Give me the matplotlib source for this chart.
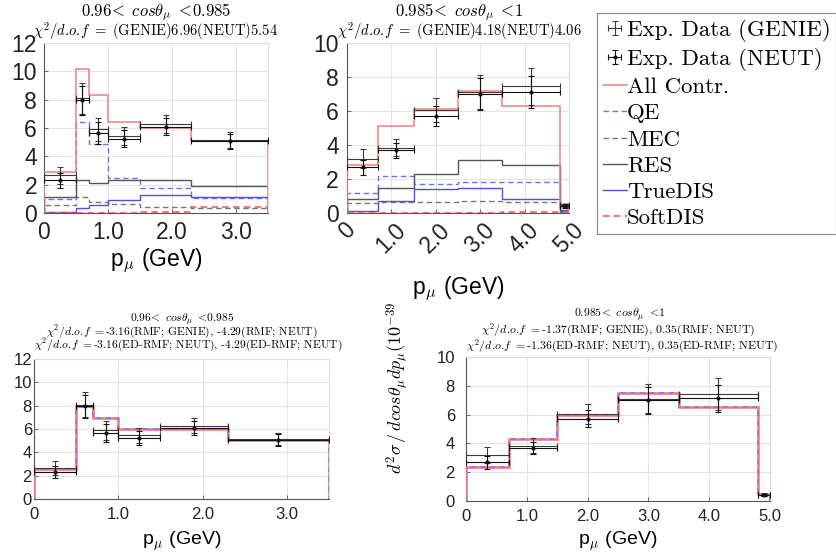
import numpy as np
import matplotlib.pyplot as plt
from matplotlib.ticker import MultipleLocator
from matplotlib.container import ErrorbarContainer
from matplotlib.legend_handler import HandlerErrorbar

plt.rcParams['mathtext.fontset'] = 'cm'
plt.rcParams['font.family'] = ['Liberation Sans', 'DejaVu Sans']

# ---- 0.96 < cos(theta) < 0.985 ----
edges_a = [0, 0.5, 0.7, 1.0, 1.5, 2.3, 3.5]
genie_a = [2.65, 8.1, 5.9, 5.45, 6.3, 5.15]
genie_err_a = [0.6, 1.1, 0.8, 0.65, 0.65, 0.55]
neut_a = [2.3, 7.95, 5.65, 5.25, 6.1, 5.05]
neut_err_a = [0.5, 1.0, 0.8, 0.6, 0.6, 0.5]
all_a = [2.9, 10.2, 8.35, 6.4, 6.0, 5.05]
qe_a = [1.0, 6.45, 4.9, 2.45, 1.75, 1.05]
mec_a = [0.55, 1.1, 0.8, 0.65, 0.45, 0.35]
res_a = [1.15, 2.3, 2.1, 2.3, 2.3, 1.9]
truedis_a = [0.05, 0.35, 0.6, 0.95, 1.3, 1.1]
softdis_a = [0.0, 0.0, 0.0, 0.0, 0.1, 0.45]
rmf_a = [2.55, 7.95, 6.95, 5.97, 6.0, 5.1]
edrmf_a = [2.55, 7.9, 6.95, 5.97, 6.0, 5.1]

# ---- 0.985 < cos(theta) < 1 ----
edges_b = [0, 0.7, 1.5, 2.5, 3.5, 4.8, 5.0]
genie_b = [3.2, 3.85, 6.05, 7.1, 7.45, 0.45]
genie_err_b = [0.55, 0.5, 0.7, 1.0, 1.1, 0.1]
neut_b = [2.68, 3.68, 5.72, 7.0, 7.12, 0.42]
neut_err_b = [0.45, 0.45, 0.6, 0.95, 0.95, 0.1]
all_b = [2.8, 5.1, 6.1, 7.2, 6.3, 0.55]
qe_b = [1.2, 2.2, 1.7, 1.85, 1.85, 0.1]
mec_b = [0.6, 0.62, 0.62, 0.7, 0.65, 0.05]
res_b = [0.8, 1.5, 2.3, 3.1, 2.85, 0.1]
truedis_b = [0.1, 0.68, 1.4, 1.45, 0.82, 0.2]
softdis_b = [0.0, 0.0, 0.0, 0.0, 0.08, 0.05]
rmf_b = [2.35, 4.28, 6.0, 7.5, 6.52, 0.5]
edrmf_b = [2.35, 4.28, 6.0, 7.5, 6.52, 0.5]

ticks_a = [0, 1, 2, 3]
ticklabels_a = ['0', '1.0', '2.0', '3.0']
ticks_b = [0, 1, 2, 3, 4, 5]
ticklabels_b = ['0', '1.0', '2.0', '3.0', '4.0', '5.0']

W, H = 836, 560
fig = plt.figure(figsize=(W / 100, H / 100), dpi=100)


def box(x0, y0, x1, y1):
    # pixel box -> figure fraction
    return [x0 / W, 1 - y1 / H, (x1 - x0) / W, (y1 - y0) / H]


def ftext(x, y, s, **kw):
    fig.text(x / W, 1 - y / H, s, ha='center', va='center', **kw)


def style(ax, xmax, ymax, ticks, labels, size, xpad, ypad):
    ax.set_xlim(0, xmax)
    ax.set_ylim(0, ymax)
    ax.set_xticks(ticks)
    ax.set_xticklabels(labels)
    ax.yaxis.set_major_locator(MultipleLocator(2))
    ax.grid(True, color='#e4e4e4', lw=0.8)
    ax.set_axisbelow(True)
    for s in ['left', 'bottom']:
        ax.spines[s].set_color('#555555')
    for s in ['top', 'right']:
        ax.spines[s].set_color('#dcdcdc')
    ax.tick_params(direction='in', length=3, width=0.6, colors='#555555',
                   labelcolor='#222222', labelsize=size)
    ax.tick_params(axis='x', pad=xpad)
    ax.tick_params(axis='y', pad=ypad)


def draw_data(ax, edges, g, ge, n, ne):
    e = np.asarray(edges)
    xc = (e[:-1] + e[1:]) / 2
    xw = (e[1:] - e[:-1]) / 2
    h1 = ax.errorbar(xc, g, xerr=xw, yerr=ge, fmt='none', ecolor='#3a3a3a',
                     elinewidth=0.8, capsize=2.5, capthick=0.8, zorder=5)
    h2 = ax.errorbar(xc, n, xerr=xw, yerr=ne, fmt='.', color='#111111', ms=4,
                     elinewidth=0.8, capsize=2.5, capthick=0.8, zorder=6)
    return h1, h2


def draw_components(ax, edges, a, q, m, r, t, s):
    la = ax.stairs(a, edges, baseline=0, color='#ef8080', lw=1.1, zorder=4)
    lq = ax.stairs(q, edges, baseline=0, color='#7070ee', lw=1.0, ls=(0, (4, 2.5)), zorder=3)
    lm = ax.stairs(m, edges, baseline=0, color='#777777', lw=1.0, ls=(0, (4, 2.5)), zorder=3)
    lr = ax.stairs(r, edges, baseline=0, color='#555555', lw=1.0, zorder=3)
    lt = ax.stairs(t, edges, baseline=0, color='#5050dd', lw=1.0, zorder=3)
    ls_ = ax.stairs(s, edges, baseline=0, color='#ee6060', lw=1.2, ls=(0, (4, 2.5)), zorder=3)
    return la, lq, lm, lr, lt, ls_


def draw_rmf(ax, edges, r, e):
    ax.stairs(r, edges, baseline=0, color='#ff7070', lw=1.8, zorder=3)
    ax.stairs(e, edges, baseline=0, color='#7f7fff', lw=1.4, ls=(0, (2.5, 2.5)), zorder=4)


chi = r'\chi^2/d.\!o.\!f'

# top left
ax1 = fig.add_axes(box(44, 43, 268, 213))
style(ax1, 3.5, 12, ticks_a, ticklabels_a, 16.5, 6, 5)
comp = draw_components(ax1, edges_a, all_a, qe_a, mec_a, res_a, truedis_a, softdis_a)
hg, hn = draw_data(ax1, edges_a, genie_a, genie_err_a, neut_a, neut_err_a)
ax1.set_xlabel(r'p$_\mu$ (GeV)', fontsize=16.5)
ax1.xaxis.set_label_coords(0.5, -0.2)
ftext(156, 12, r'$0.96\!<\ cos\theta_\mu\ <\!0.985$', fontsize=12)
ftext(156, 31, r'$' + chi + r'\ =\ \text{(GENIE)6.96(NEUT)5.54}$', fontsize=10.5)

# top right
ax2 = fig.add_axes(box(347, 43, 569, 213))
style(ax2, 5.0, 10, ticks_b, ticklabels_b, 16.5, 4, 6)
for lab in ax2.get_xticklabels():
    lab.set_rotation(45)
    lab.set_ha('center')
    lab.set_va('top')
draw_components(ax2, edges_b, all_b, qe_b, mec_b, res_b, truedis_b, softdis_b)
draw_data(ax2, edges_b, genie_b, genie_err_b, neut_b, neut_err_b)
ax2.set_xlabel(r'p$_\mu$ (GeV)', fontsize=16.5)
ax2.xaxis.set_label_coords(0.5, -0.36)
ftext(459, 12, r'$0.985\!<\ cos\theta_\mu\ <\!1$', fontsize=12)
ftext(459, 31, r'$' + chi + r'\ =\ \text{(GENIE)4.18(NEUT)4.06}$', fontsize=10.5)

# bottom left
ax3 = fig.add_axes(box(34, 359, 329, 499))
style(ax3, 3.5, 12, ticks_a, ticklabels_a, 12, 6, 1.5)
draw_rmf(ax3, edges_a, rmf_a, edrmf_a)
draw_data(ax3, edges_a, genie_a, genie_err_a, neut_a, neut_err_a)
ax3.set_xlabel(r'p$_\mu$ (GeV)', fontsize=14)
ax3.xaxis.set_label_coords(0.5, -0.22)
ftext(182, 320, r'$0.96\!<\ cos\theta_\mu\ <\!0.985$', fontsize=8.3)
ftext(182, 332.5, r'$' + chi + r'\ =\text{-3.16(RMF; GENIE), -4.29(RMF; NEUT)}$', fontsize=8.3)
ftext(188, 345, r'$' + chi + r'\ =\text{-3.16(ED-RMF; NEUT), -4.29(ED-RMF; NEUT)}$', fontsize=8.3)

# bottom right
ax4 = fig.add_axes(box(466, 357, 770, 501))
style(ax4, 5.0, 10, ticks_b, ticklabels_b, 12, 6, 8)
draw_rmf(ax4, edges_b, rmf_b, edrmf_b)
draw_data(ax4, edges_b, genie_b, genie_err_b, neut_b, neut_err_b)
ax4.set_xlabel(r'p$_\mu$ (GeV)', fontsize=14)
ax4.xaxis.set_label_coords(0.5, -0.2)
ftext(620, 315, r'$0.985\!<\ cos\theta_\mu\ <\!1$', fontsize=8.5)
ftext(618, 330.5, r'$' + chi + r'\ =\text{-1.37(RMF; GENIE), 0.35(RMF; NEUT)}$', fontsize=8.5)
ftext(622, 346, r'$' + chi + r'\ =\text{-1.36(ED-RMF; NEUT), 0.35(ED-RMF; NEUT)}$', fontsize=8.5)
ftext(398, 388, r'$d^2\sigma\,/\,dcos\theta_\mu dp_\mu(10^{-39}$', fontsize=13, rotation=90)

# legend
labels = ['Exp. Data (GENIE)', 'Exp. Data (NEUT)', 'All Contr.', 'QE', 'MEC',
          'RES', 'TrueDIS', 'SoftDIS']
leg = fig.legend([hg, hn] + list(comp), labels, loc='upper left',
                 bbox_to_anchor=(597 / W, 1 - 13 / H),
                 prop={'family': 'cmr10', 'size': 16.5},
                 handler_map={ErrorbarContainer: HandlerErrorbar(xerr_size=0.28, yerr_size=0.3)},
                 handlelength=1.05, handletextpad=0.0, borderpad=0.25,
                 labelspacing=0.27, borderaxespad=0, fancybox=False,
                 edgecolor='#888888', framealpha=1)
leg.get_frame().set_linewidth(0.8)

fig.savefig('out.png', dpi=100)
